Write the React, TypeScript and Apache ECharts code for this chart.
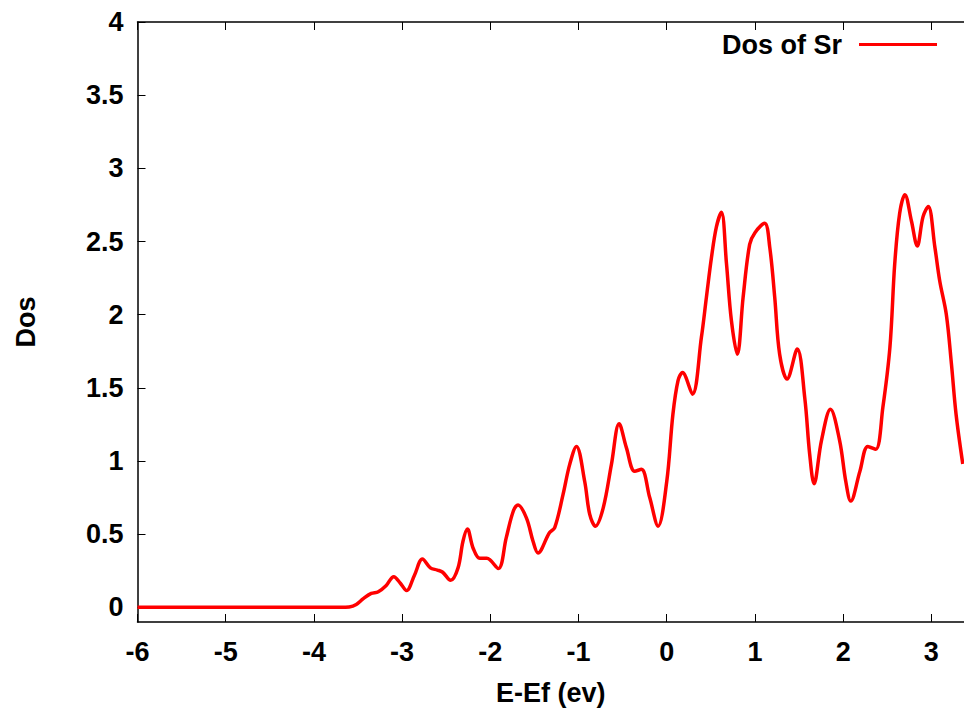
import React, { useEffect, useRef } from "react";
import * as echarts from "echarts";

const energy = [
  -6.0, -5.0, -4.0, -3.7, -3.6, -3.52, -3.44, -3.35, -3.27, -3.18, -3.095, -3.02, -2.95, -2.86, -2.77,
  -2.68, -2.6, -2.54, -2.45, -2.366, -2.31, -2.26, -2.196, -2.12, -2.04, -1.91, -1.82, -1.74, -1.686,
  -1.59, -1.516, -1.46, -1.33, -1.27, -1.176, -1.1, -1.024, -0.93, -0.873, -0.808, -0.72, -0.627, -0.54,
  -0.457, -0.363, -0.287, -0.193, -0.098, 0.0, 0.07, 0.128, 0.178, 0.291, 0.393, 0.45, 0.507, 0.563,
  0.62, 0.677, 0.733, 0.8, 0.866, 0.94, 1.0, 1.11, 1.168, 1.224, 1.28, 1.364, 1.48, 1.565, 1.62, 1.67,
  1.754, 1.856, 1.96, 2.03, 2.086, 2.19, 2.28, 2.37, 2.45, 2.53, 2.585, 2.64, 2.7, 2.774, 2.84, 2.906,
  2.965, 3.04, 3.095, 3.17, 3.228, 3.28, 3.356,
];
const dosSr = [
  0, 0, 0, 0, 0.003, 0.02, 0.06, 0.095, 0.107, 0.15, 0.21, 0.165, 0.115, 0.22, 0.33,
  0.27, 0.255, 0.24, 0.185, 0.27, 0.452, 0.535, 0.406, 0.335, 0.335, 0.265, 0.475, 0.657, 0.7,
  0.61, 0.452, 0.372, 0.51, 0.545, 0.77, 0.977, 1.1, 0.86, 0.635, 0.555, 0.68, 0.977, 1.255,
  1.09, 0.93, 0.943, 0.75, 0.555, 0.86, 1.32, 1.55, 1.605, 1.457, 1.845, 2.12, 2.39, 2.6,
  2.7, 2.35, 1.96, 1.73, 2.12, 2.48, 2.56, 2.625, 2.46, 2.12, 1.73, 1.56, 1.765, 1.43, 1.05, 0.845,
  1.14, 1.354, 1.14, 0.86, 0.726, 0.93, 1.1, 1.08, 1.365, 1.776, 2.35, 2.69, 2.82, 2.64, 2.47, 2.67,
  2.74, 2.46, 2.23, 2.0, 1.66, 1.32, 0.98,
];
const xTicks = [-6, -5, -4, -3, -2, -1, 0, 1, 2, 3];
const yTicks = [0, 0.5, 1, 1.5, 2, 2.5, 3, 3.5, 4];
const seriesName = "Dos of Sr";
const xTitle = "E-Ef (ev)";
const yTitle = "Dos";

export default function App() {
  const ref = useRef<HTMLDivElement>(null);
  useEffect(() => {
    if (!ref.current) return;
    const chart = echarts.init(ref.current, undefined, { renderer: "svg" });
    const font = "'Liberation Sans', Arial, sans-serif";
    const axisLine = { show: true, onZero: false, lineStyle: { color: "#000", width: 1.5 } };
    const tickStyle = { inside: true, length: 8, lineStyle: { color: "#000", width: 1 } };
    const labelStyle = { fontFamily: font, fontWeight: "bold" as const, fontSize: 27, color: "#000" };
    chart.setOption({
      animation: false,
      backgroundColor: "#fff",
      grid: { left: 137.5, right: 0, top: 22, bottom: 88, containLabel: false, outerBoundsMode: "none" },
      legend: {
        right: 22,
        top: 26,
        align: "right",
        itemWidth: 78,
        itemHeight: 3,
        icon: "rect",
        textStyle: { ...labelStyle, padding: [0, 12, 0, 0] },
        data: [seriesName],
      },
      xAxis: [
        {
          type: "value",
          min: -6,
          max: 3.37,
          position: "bottom",
          name: xTitle,
          nameLocation: "middle",
          nameGap: 57,
          nameTextStyle: labelStyle,
          axisLine,
          axisTick: { ...tickStyle, customValues: xTicks },
          axisLabel: { ...labelStyle, margin: 16, customValues: xTicks },
          splitLine: { show: false },
        },
        {
          type: "value",
          min: -6,
          max: 3.37,
          position: "top",
          axisLine,
          axisTick: { ...tickStyle, customValues: xTicks },
          axisLabel: { show: false },
          splitLine: { show: false },
        },
      ],
      yAxis: {
        type: "value",
        min: -0.1,
        max: 4,
        name: yTitle,
        nameLocation: "middle",
        nameGap: 98,
        nameTextStyle: labelStyle,
        axisLine,
        axisTick: { ...tickStyle, customValues: yTicks },
        axisLabel: { ...labelStyle, margin: 14, customValues: yTicks },
        splitLine: { show: false },
      },
      series: [
        {
          name: seriesName,
          type: "line",
          xAxisIndex: 0,
          data: energy.map((e, i) => [e, dosSr[i]]),
          smooth: 0.35,
          showSymbol: false,
          symbol: "none",
          lineStyle: { color: "#ff0000", width: 3.5 },
          itemStyle: { color: "#ff0000" },
        },
      ],
    });
    return () => chart.dispose();
  }, []);
  return (
    <div
      ref={ref}
      style={{ position: "fixed", left: 0, top: 0, width: 964, height: 710, background: "#fff" }}
    />
  );
}
